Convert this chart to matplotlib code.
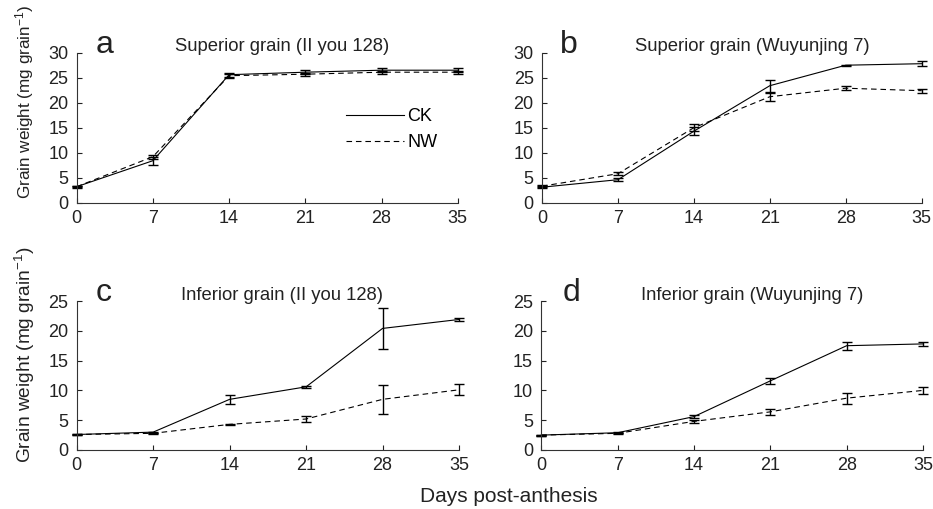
import matplotlib
matplotlib.use("Agg")
import matplotlib.pyplot as plt
from matplotlib.lines import Line2D

plt.rcParams['font.family'] = ['Liberation Sans', 'DejaVu Sans']
plt.rcParams['mathtext.default'] = 'regular'

days = [0, 7, 14, 21, 28, 35]

# panel a: superior grain, II you 128
a_ck = [3.2, 8.4, 25.6, 26.1, 26.5, 26.5]
a_ck_err = [0.2, 0.8, 0.4, 0.4, 0.4, 0.4]
a_nw = [3.2, 9.2, 25.4, 25.7, 26.1, 26.1]
a_nw_err = [0.1, 0.4, 0.4, 0.3, 0.3, 0.3]

# panel b: superior grain, Wuyunjing 7
b_ck = [3.1, 4.6, 14.3, 23.4, 27.5, 27.8]
b_ck_err = [0.2, 0.3, 0.8, 1.2, 0.1, 0.5]
b_nw = [3.3, 5.8, 15.0, 21.2, 22.9, 22.4]
b_nw_err = [0.2, 0.3, 0.7, 0.8, 0.4, 0.4]

# panel c: inferior grain, II you 128
c_ck = [2.6, 3.0, 8.5, 10.6, 20.4, 21.9]
c_ck_err = [0.1, 0.1, 0.8, 0.2, 3.4, 0.2]
c_nw = [2.6, 2.8, 4.3, 5.2, 8.5, 10.1]
c_nw_err = [0.1, 0.1, 0.1, 0.5, 2.4, 0.9]

# panel d: inferior grain, Wuyunjing 7
d_ck = [2.5, 2.9, 5.6, 11.6, 17.5, 17.8]
d_ck_err = [0.1, 0.1, 0.3, 0.5, 0.7, 0.4]
d_nw = [2.5, 2.8, 4.8, 6.4, 8.7, 10.0]
d_nw_err = [0.1, 0.1, 0.2, 0.5, 0.9, 0.6]

titles = ['Superior grain (II you 128)', 'Superior grain (Wuyunjing 7)',
          'Inferior grain (II you 128)', 'Inferior grain (Wuyunjing 7)']
letters = ['a', 'b', 'c', 'd']
ymax = [30, 30, 25, 25]

fig = plt.figure(figsize=(9.33, 5.09), dpi=100)
W, H = 933.0, 509.0

def box(x0, x1, ytop, ybot):
    return [x0 / W, 1 - ybot / H, (x1 - x0) / W, (ybot - ytop) / H]

axes = [fig.add_axes(box(76.7, 457.7, 52.7, 202.7)),
        fig.add_axes(box(542, 921.7, 52.7, 202.7)),
        fig.add_axes(box(76.7, 459, 301, 450)),
        fig.add_axes(box(541.3, 923, 301, 450))]

series = [(a_ck, a_ck_err, a_nw, a_nw_err),
          (b_ck, b_ck_err, b_nw, b_nw_err),
          (c_ck, c_ck_err, c_nw, c_nw_err),
          (d_ck, d_ck_err, d_nw, d_nw_err)]

title_x = [0.539, 0.553, 0.537, 0.552]
letter_x = [0.05, 0.047, 0.05, 0.057]
dash = (0, (5, 3.5))

for i, ax in enumerate(axes):
    ck, ck_err, nw, nw_err = series[i]
    ax.errorbar(days, ck, yerr=ck_err, color='black', lw=0.8, capsize=3.5,
                elinewidth=1.0, capthick=1.0, clip_on=False)
    ax.errorbar(days, nw, yerr=nw_err, color='black', lw=0.8, ls=dash,
                capsize=3.5, elinewidth=1.0, capthick=1.0, clip_on=False)
    ax.set_xlim(0, 35)
    ax.set_ylim(0, ymax[i])
    ax.set_xticks(days)
    ax.set_yticks(range(0, ymax[i] + 1, 5))
    ax.tick_params(direction='in', length=3.5, width=0.8, labelsize=13,
                   colors='#222222')
    ax.tick_params(axis='x', pad=5)
    ax.tick_params(axis='y', pad=6)
    for s in ['top', 'right']:
        ax.spines[s].set_visible(False)
    for s in ['left', 'bottom']:
        ax.spines[s].set_linewidth(0.8)
        ax.spines[s].set_color('#333333')
    ax.text(title_x[i], 1.01, titles[i], transform=ax.transAxes, ha='center',
            va='baseline', fontsize=13.3, color='#222222')
    ax.text(letter_x[i], 1.0, letters[i], transform=ax.transAxes, ha='left',
            va='baseline', fontsize=23, color='#222222')

handles = [Line2D([], [], color='black', lw=0.8),
           Line2D([], [], color='black', lw=0.8, ls=dash)]
axes[0].legend(handles, ['CK', 'NW'], loc='upper left',
               bbox_to_anchor=(0.707, 0.63), frameon=False, fontsize=13,
               handlelength=3.2, handletextpad=0.2, borderpad=0,
               borderaxespad=0, labelspacing=0.5)

ylab = 'Grain weight (mg grain$^{-1}$)'
fig.text(25 / W, 1 - 102 / H, ylab, rotation=90, ha='center', va='center',
         fontsize=12.3, color='#222222')
fig.text(25 / W, 1 - 355 / H, ylab, rotation=90, ha='center', va='center',
         fontsize=13.8, color='#222222')
fig.text(509 / W, 1 - 497 / H, 'Days post-anthesis', ha='center', va='center',
         fontsize=15, color='#222222')

fig.savefig('out.png', dpi=100)
